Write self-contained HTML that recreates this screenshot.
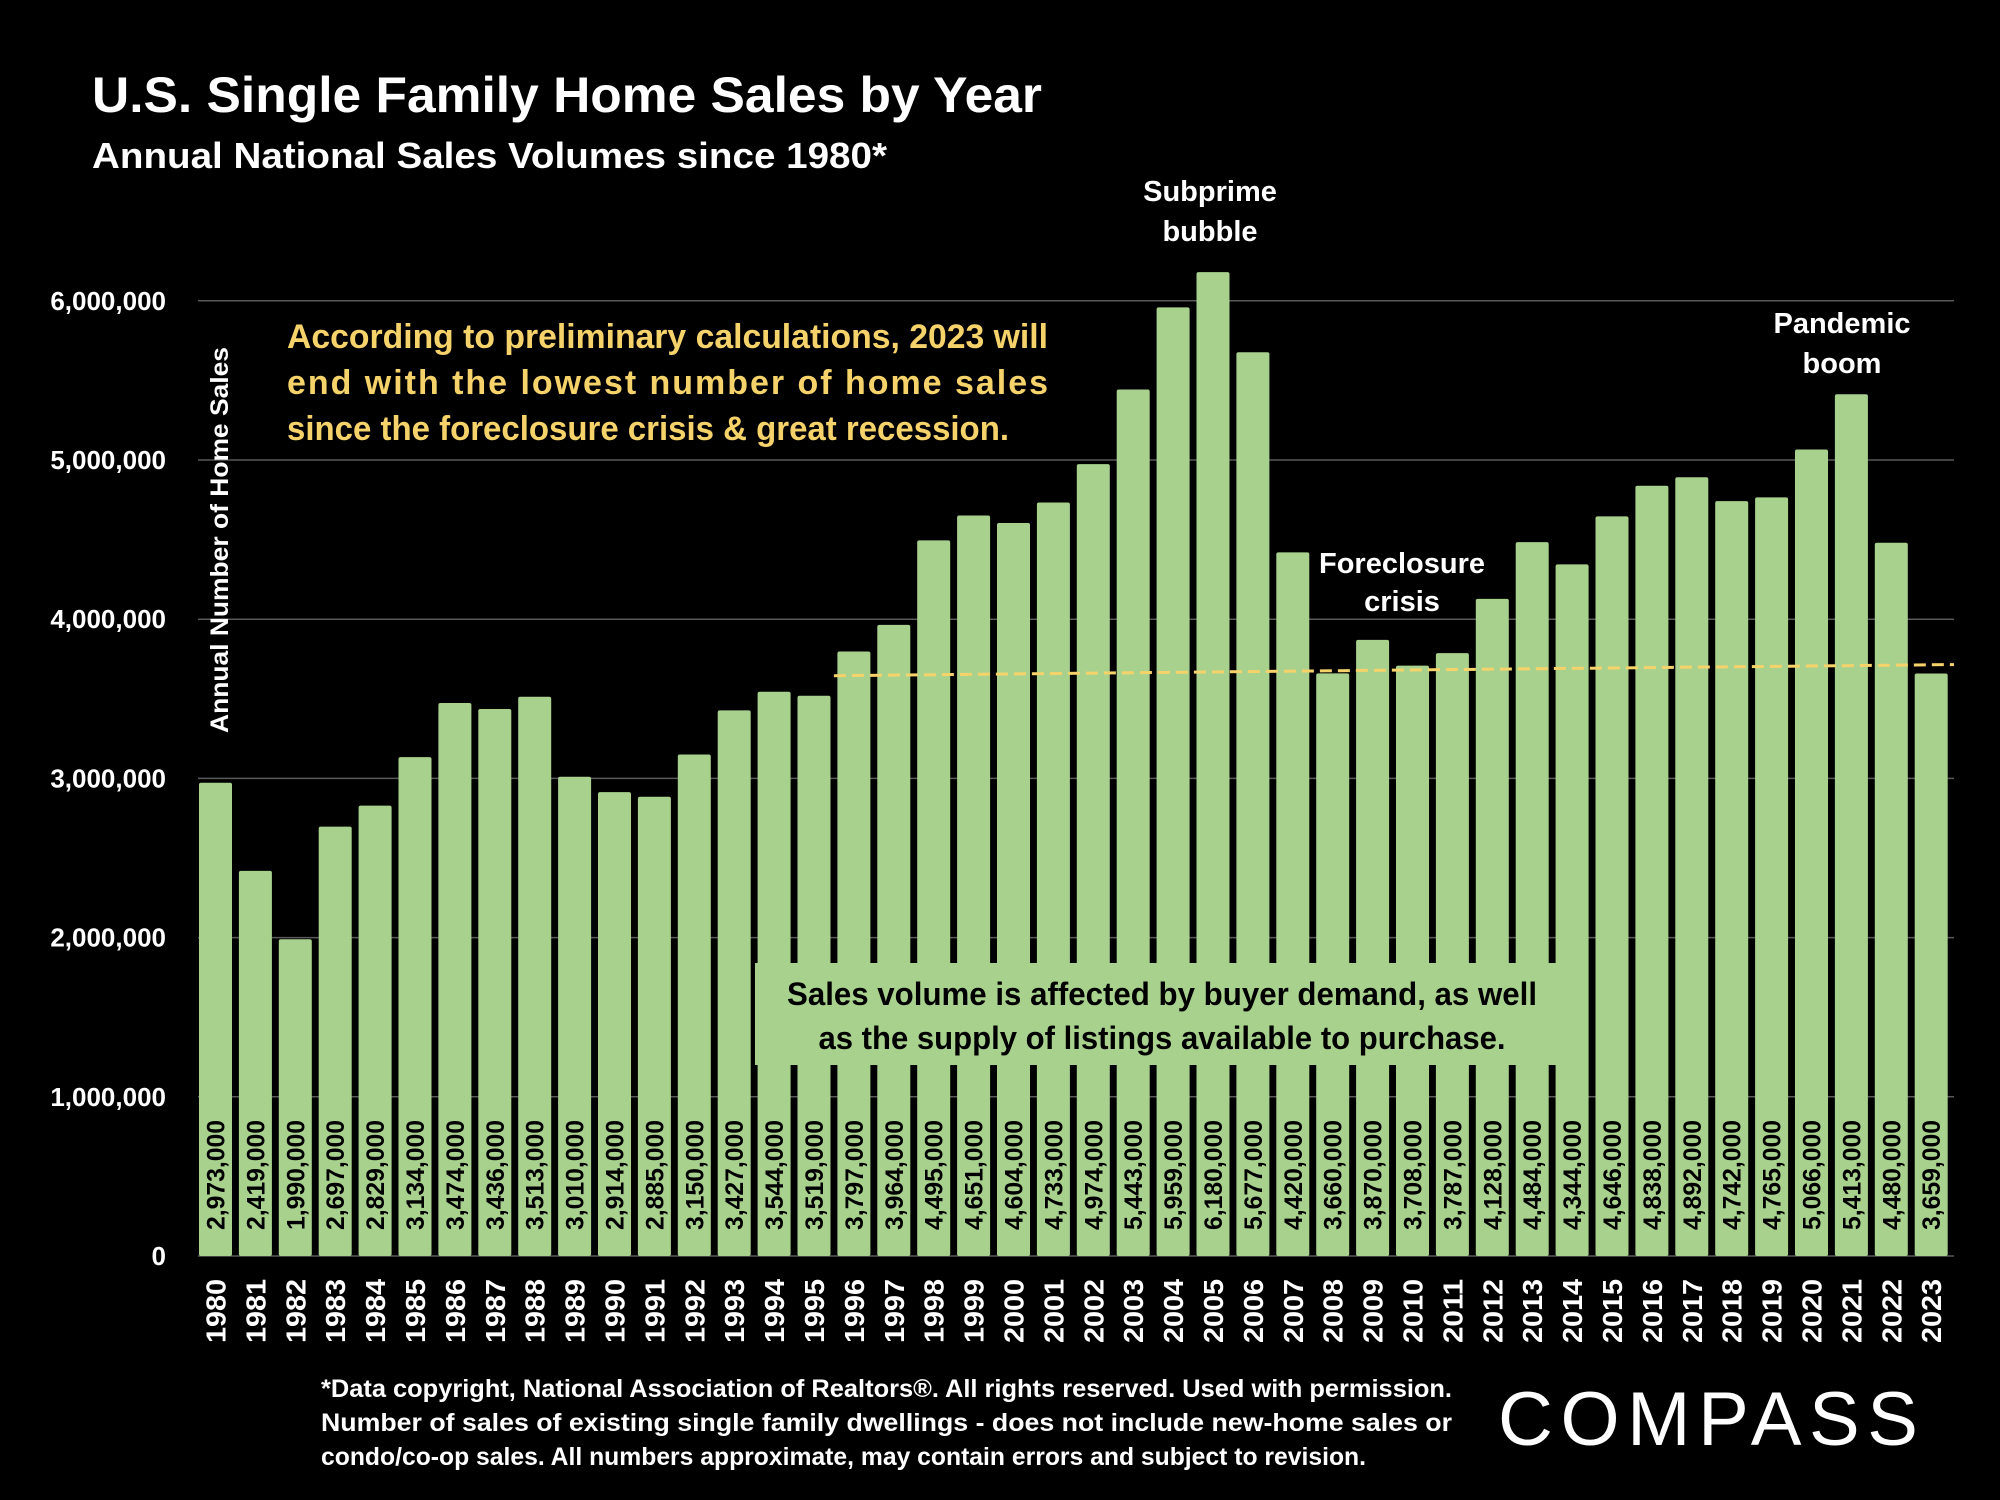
<!DOCTYPE html>
<html><head><meta charset="utf-8"><style>
html,body{margin:0;padding:0;background:#000;}
svg{display:block;font-family:"Liberation Sans",sans-serif;font-weight:bold;}
</style></head><body>
<svg id="chart" width="2000" height="1500" viewBox="0 0 2000 1500">
<rect width="2000" height="1500" fill="#000"/>
<text x="92" y="112" font-size="50" fill="#fff" textLength="950" lengthAdjust="spacingAndGlyphs">U.S. Single Family Home Sales by Year</text>
<text x="92" y="168" font-size="36" fill="#fff" textLength="795" lengthAdjust="spacingAndGlyphs">Annual National Sales Volumes since 1980*</text>
<g id="grid"></g>
<g id="yticks"></g>
<g id="bars"></g>
<g id="xlabels"></g>
<text transform="translate(228,540) rotate(-90)" text-anchor="middle" font-size="25" fill="#fff" textLength="386" lengthAdjust="spacingAndGlyphs">Annual Number of Home Sales</text>
<g>
<rect x="755" y="963" width="833" height="102" fill="#a9d18e"/>
<text x="1162" y="1005" text-anchor="middle" font-size="32" fill="#000" textLength="750" lengthAdjust="spacingAndGlyphs">Sales volume is affected by buyer demand, as well</text>
<text x="1162" y="1049" text-anchor="middle" font-size="32" fill="#000" textLength="687" lengthAdjust="spacingAndGlyphs">as the supply of listings available to purchase.</text>
</g>
<g fill="#f5d36a" font-size="34">
<text x="287" y="348" textLength="761" lengthAdjust="spacingAndGlyphs">According to preliminary calculations, 2023 will</text>
<text x="287" y="394" textLength="761" lengthAdjust="spacing">end with the lowest number of home sales</text>
<text x="287" y="440" textLength="722" lengthAdjust="spacingAndGlyphs">since the foreclosure crisis &amp; great recession.</text>
</g>
<g fill="#fff" font-size="29" text-anchor="middle">
<g><text x="1210" y="201">Subprime</text><text x="1210" y="241">bubble</text></g>
<g><text x="1842" y="333">Pandemic</text><text x="1842" y="373">boom</text></g>
<g><text x="1402" y="573">Foreclosure</text><text x="1402" y="611">crisis</text></g>
</g>
<g id="trend"></g>
<g fill="#fff" font-size="25">
<text x="321" y="1397" textLength="1131" lengthAdjust="spacingAndGlyphs">*Data copyright, National Association of Realtors®. All rights reserved. Used with permission.</text>
<text x="321" y="1431" textLength="1131" lengthAdjust="spacingAndGlyphs">Number of sales of existing single family dwellings - does not include new-home sales or</text>
<text x="321" y="1465" textLength="1045" lengthAdjust="spacingAndGlyphs">condo/co-op sales. All numbers approximate, may contain errors and subject to revision.</text>
</g>
<text x="1498" y="1445" font-size="76" font-weight="normal" fill="#fff" textLength="420" lengthAdjust="spacing">COMPASS</text>
</svg>
<script>
const years=[1980,1981,1982,1983,1984,1985,1986,1987,1988,1989,1990,1991,1992,1993,1994,1995,1996,1997,1998,1999,2000,2001,2002,2003,2004,2005,2006,2007,2008,2009,2010,2011,2012,2013,2014,2015,2016,2017,2018,2019,2020,2021,2022,2023];
const sales=[2973000,2419000,1990000,2697000,2829000,3134000,3474000,3436000,3513000,3010000,2914000,2885000,3150000,3427000,3544000,3519000,3797000,3964000,4495000,4651000,4604000,4733000,4974000,5443000,5959000,6180000,5677000,4420000,3660000,3870000,3708000,3787000,4128000,4484000,4344000,4646000,4838000,4892000,4742000,4765000,5066000,5413000,4480000,3659000];
const yTicks=[0,1000000,2000000,3000000,4000000,5000000,6000000];
const trendStartYear=1996, trendStartValue=3645000, trendEndValue=3715000;
const NS='http://www.w3.org/2000/svg';
const y0=1256, pxPerM=159.2;
const yS=v=>y0-v/1e6*pxPerM;
const x0=215.5, step=39.9, bw=33;
const xS=i=>x0+i*step;
const fmt=v=>v.toLocaleString('en-US');
function mk(tag,attrs,parent){const e=document.createElementNS(NS,tag);for(const k in attrs)e.setAttribute(k,attrs[k]);parent.appendChild(e);return e;}
const grid=document.getElementById('grid'),yt=document.getElementById('yticks'),bars=document.getElementById('bars'),xl=document.getElementById('xlabels'),tr=document.getElementById('trend');
yTicks.forEach(t=>{
  const l=mk('line',{x1:198,x2:1954,y1:yS(t),y2:yS(t),stroke:'#595959','stroke-width':1.5},grid);
  
  
  const tx=mk('text',{x:166,y:yS(t)+9,'text-anchor':'end','font-size':26,fill:'#fff'},yt);
  tx.textContent=fmt(t);
  
  
});
sales.forEach((v,i)=>{
  const cx=xS(i);
  const r=mk('rect',{x:cx-bw/2,y:yS(v),width:bw,height:y0-yS(v),fill:'#a9d18e',rx:2},bars);
  
  
  const vl=mk('text',{transform:`translate(${cx+9},1175) rotate(-90)`,'text-anchor':'middle','font-size':25,fill:'#000',textLength:110,lengthAdjust:'spacingAndGlyphs'},bars);
  vl.textContent=fmt(v);
  
  
  const yl=mk('text',{transform:`translate(${cx+10},1311) rotate(-90)`,'text-anchor':'middle','font-size':28,fill:'#fff',textLength:64,lengthAdjust:'spacingAndGlyphs'},xl);
  yl.textContent=years[i];
  
  
});
const si=years.indexOf(trendStartYear);
const tl=mk('line',{x1:xS(si)-20,y1:yS(trendStartValue),x2:1954,y2:yS(trendEndValue),stroke:'#f5d36a','stroke-width':3,'stroke-dasharray':'12 6'},tr);


</script>
</body></html>
